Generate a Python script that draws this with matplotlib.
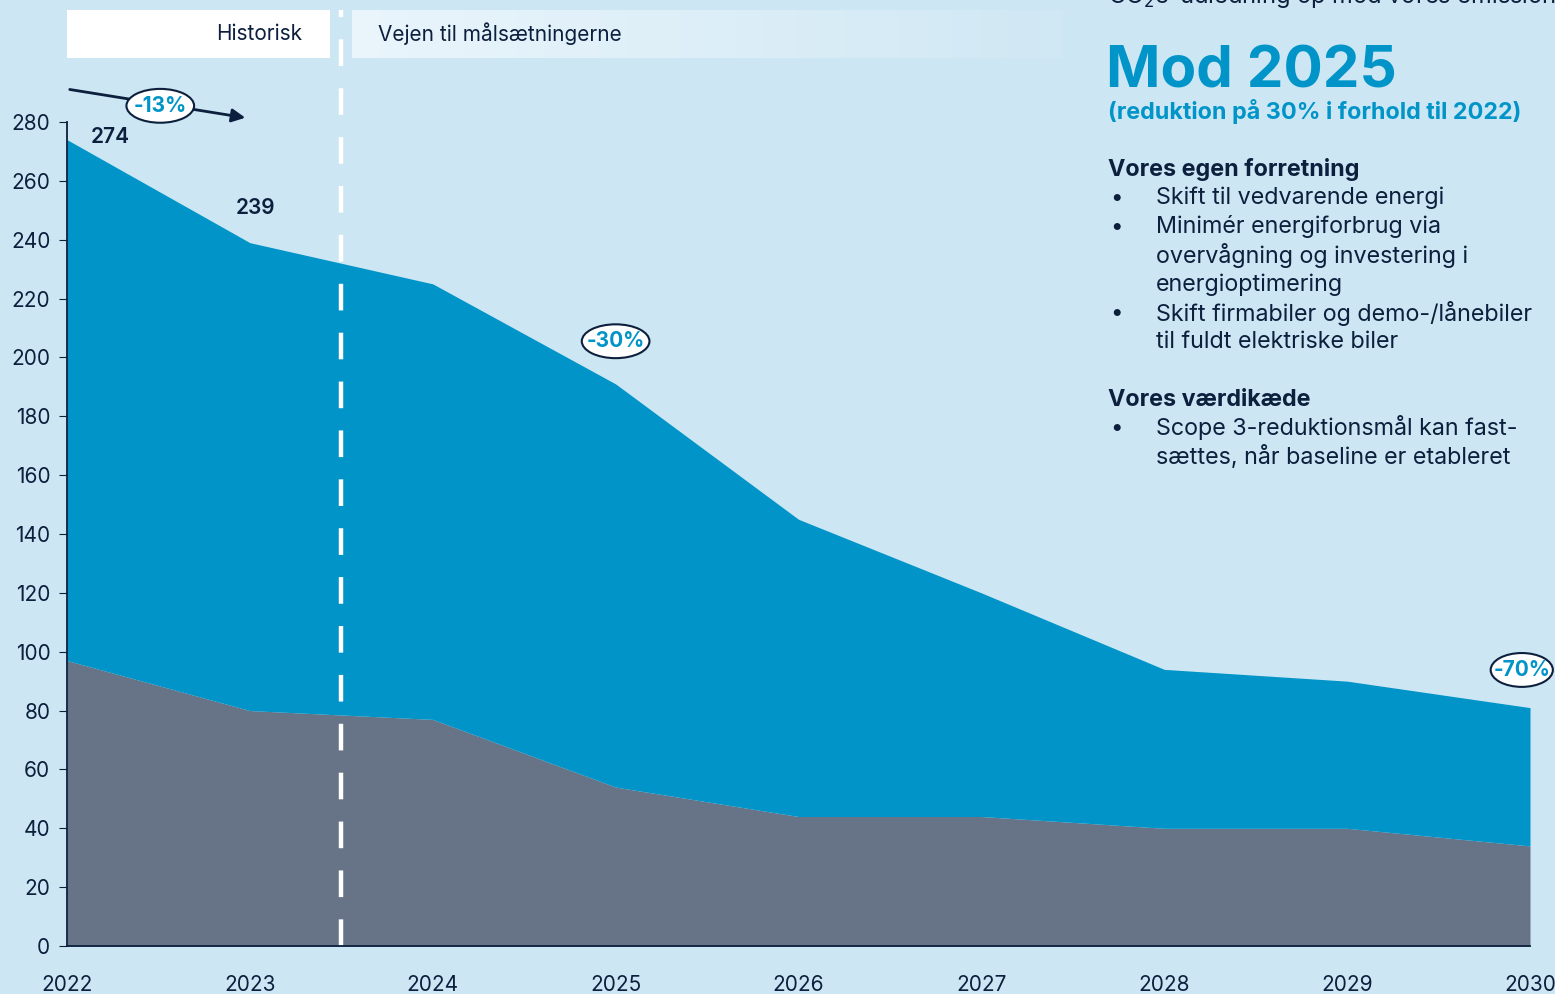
import matplotlib.pyplot as plt
import matplotlib as mtpl
from matplotlib.patches import Ellipse, Rectangle
import numpy as np

# colours
bg = "#cce7f3"
blue = "#0094c8"
grey = "#677386"
navy = "#0c1f3d"

mtpl.rcParams['font.family'] = ['Inter', 'DejaVu Sans']

# data (tonnes CO2e)
years = [2022, 2023, 2024, 2025, 2026, 2027, 2028, 2029, 2030]
total = [274, 239, 225, 191, 145, 120, 94, 90, 81]
own_ops = [97, 80, 77, 54, 44, 44, 40, 40, 34]
yticks = list(range(0, 281, 20))

value_labels = [(2022.235, 274.9, "274"), (2023.03, 250.8, "239")]
pct_labels = [("-13%", 2022.51, 285.5), ("-30%", 2025.0, 205.5), ("-70%", 2029.955, 93.8)]

fig = plt.figure(figsize=(15.55, 9.94), dpi=100, facecolor=bg)
ax = fig.add_axes([67 / 1555, 1 - 946 / 994, (1530 - 67) / 1555, (946 - 122) / 994])
ax.set_facecolor(bg)

ax.fill_between(years, 0, own_ops, color=grey, linewidth=0)
ax.fill_between(years, own_ops, total, color=blue, linewidth=0)

# header boxes
ax.add_patch(Rectangle((2022, 301.7), 1.438, 16.3, facecolor="white", edgecolor="none", clip_on=False))
grad = np.linspace(0, 1, 256).reshape(1, -1)
cmap = mtpl.colors.LinearSegmentedColormap.from_list("hdr", ["#eaf5fc", "#d0e8f4"])
ax.imshow(grad, extent=[2023.558, 2027.445, 301.7, 318], aspect='auto', cmap=cmap,
          clip_on=False, zorder=1)
ax.set_xlim(2022, 2030)
ax.set_ylim(0, 280)
ax.text(2023.285, 309.9, "Historisk", ha='right', va='center', fontsize=15, color=navy, clip_on=False)
ax.text(2023.7, 309.9, "Vejen til målsætningerne", ha='left', va='center', fontsize=15,
        color=navy, clip_on=False)

# divider between history and targets
ax.plot([2023.5, 2023.5], [0, 318], color="white", linewidth=3.2, dashes=(6, 5),
        clip_on=False, zorder=3)

# arrow for the historic reduction
ax.annotate("", xy=(2022.99, 281.3), xytext=(2022, 291.2),
            arrowprops=dict(arrowstyle="-|>", color=navy, lw=2, mutation_scale=20),
            annotation_clip=False)

for txt, x, y in pct_labels:
    w = 0.37 if txt != "-70%" else 0.34
    ax.add_patch(Ellipse((x, y), w, 11.5, facecolor="white", edgecolor=navy, lw=1.5,
                         clip_on=False, zorder=4))
    ax.text(x, y, txt, ha='center', va='center', fontsize=15, fontweight='bold',
            color=blue, clip_on=False, zorder=5)

for x, y, txt in value_labels:
    ax.text(x, y, txt, ha='center', va='center', fontsize=15, fontweight='semibold', color=navy)

# axes styling
for s in ['top', 'right']:
    ax.spines[s].set_visible(False)
for s in ['left', 'bottom']:
    ax.spines[s].set_color(navy)
    ax.spines[s].set_linewidth(1.3)
ax.spines['bottom'].set_zorder(6)
ax.set_yticks(yticks)
ax.set_xticks(years)
ax.tick_params(axis='y', length=6, color=navy, labelcolor=navy, labelsize=15, pad=6)
ax.tick_params(axis='x', length=0, labelcolor=navy, labelsize=15, pad=21)

# right-hand text
def ftext(xpx, ypx, s, **kw):
    fig.text(xpx / 1555, 1 - ypx / 994, s, va='center', **kw)

ftext(1108, -4, "CO$_2$e-udledning op mod vores emissionsmål", fontsize=17, color=navy)
ftext(1106, 72, "Mod 2025", fontsize=42, fontweight='bold', color=blue)
ftext(1108, 111, "(reduktion på 30% i forhold til 2022)", fontsize=16.8, fontweight='bold', color=blue)

ftext(1108, 169, "Vores egen forretning", fontsize=16.8, fontweight='bold', color=navy)
lines1 = [("•", "Skift til vedvarende energi"), ("•", "Minimér energiforbrug via"),
          ("", "overvågning og investering i"), ("", "energioptimering"),
          ("•", "Skift firmabiler og demo-/lånebiler"), ("", "til fuldt elektriske biler")]
for i, (b, t) in enumerate(lines1):
    y = 198 + i * 28.8
    if b:
        ftext(1110, y, b, fontsize=16, color=navy)
    ftext(1156, y, t, fontsize=16.8, color=navy)

ftext(1108, 400, "Vores værdikæde", fontsize=16.8, fontweight='bold', color=navy)
lines2 = [("•", "Scope 3-reduktionsmål kan fast-"), ("", "sættes, når baseline er etableret")]
for i, (b, t) in enumerate(lines2):
    y = 428 + i * 28.8
    if b:
        ftext(1110, y, b, fontsize=16, color=navy)
    ftext(1156, y, t, fontsize=16.8, color=navy)

fig.savefig("out.png", dpi=100, facecolor=bg)
